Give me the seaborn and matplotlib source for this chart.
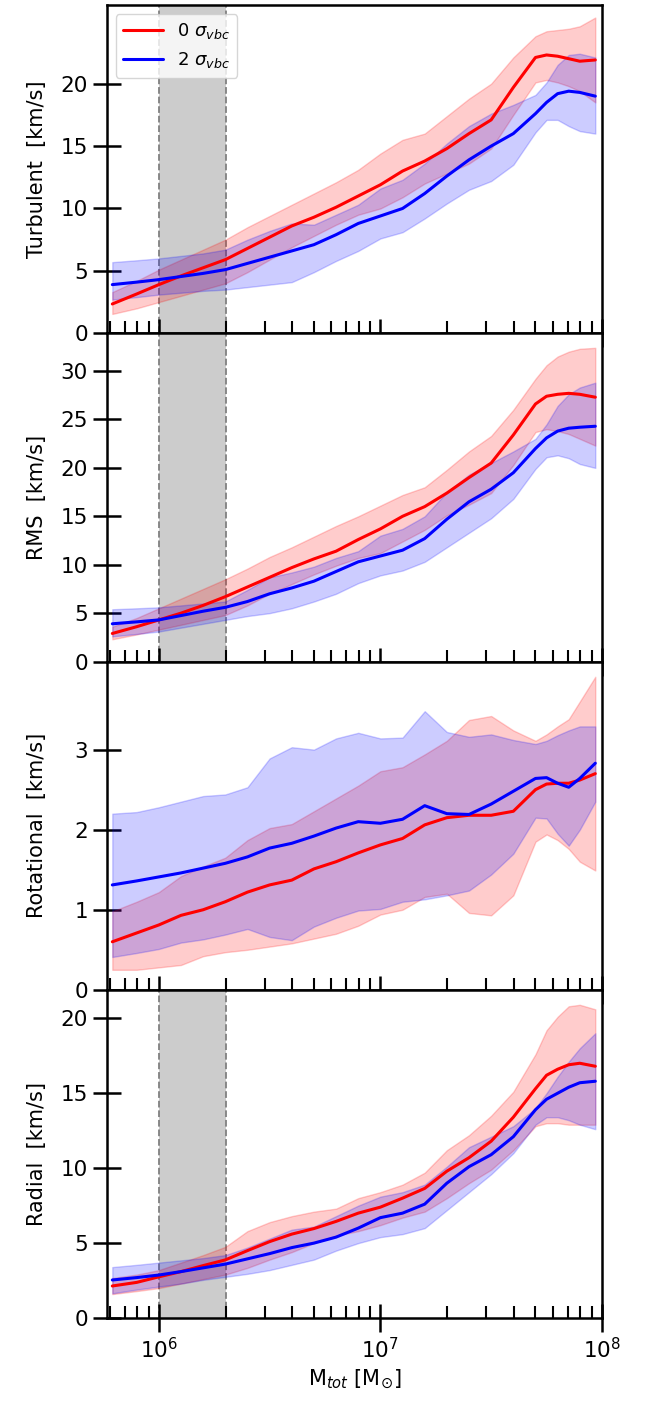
import numpy as np
import pandas as pd
import matplotlib
matplotlib.use("Agg")
import matplotlib.pyplot as plt
import seaborn as sns

# ---------------- data ----------------
log_mass = [5.79, 5.9, 6.0, 6.1, 6.2, 6.3, 6.4, 6.5, 6.6, 6.7, 6.8, 6.9, 7.0,
            7.1, 7.2, 7.3, 7.4, 7.5, 7.6, 7.7, 7.75, 7.8, 7.85, 7.9, 7.97]

# Turbulent
turb_0 = [2.35, 3.15, 3.9, 4.6, 5.25, 5.9, 6.8, 7.7, 8.6, 9.3, 10.1, 11.0, 11.9,
          13.0, 13.8, 14.8, 16.0, 17.1, 19.7, 22.1, 22.3, 22.2, 22.0, 21.8, 21.9]
turb_0_hi = [3.3, 4.2, 5.1, 5.9, 6.7, 7.5, 8.5, 9.4, 10.3, 11.2, 12.1, 13.1, 14.4,
             15.5, 16.0, 17.4, 18.8, 20.0, 22.1, 23.8, 24.2, 24.3, 24.4, 24.6, 25.3]
turb_0_lo = [1.55, 2.0, 2.5, 3.0, 3.5, 4.0, 4.9, 5.9, 6.9, 7.8, 8.7, 9.5, 10.0,
             10.9, 12.0, 12.8, 13.6, 14.8, 17.5, 20.1, 20.3, 20.1, 19.8, 19.4, 18.5]
turb_2 = [3.9, 4.1, 4.3, 4.55, 4.8, 5.1, 5.6, 6.1, 6.6, 7.1, 7.9, 8.8, 9.4,
          10.0, 11.2, 12.6, 13.9, 15.0, 16.0, 17.6, 18.5, 19.2, 19.4, 19.3, 19.0]
turb_2_hi = [5.7, 5.85, 6.0, 6.2, 6.4, 6.7, 7.5, 8.2, 8.8, 8.7, 9.5, 10.3, 11.6,
             12.3, 13.6, 15.2, 16.6, 17.6, 18.3, 19.1, 20.1, 21.5, 22.3, 22.4, 22.1]
turb_2_lo = [2.7, 2.9, 3.1, 3.25, 3.4, 3.5, 3.7, 3.9, 4.1, 4.9, 5.8, 6.6, 7.6,
             8.1, 9.2, 10.4, 11.5, 12.2, 13.5, 16.1, 17.1, 17.1, 16.6, 16.2, 16.0]

# RMS
rms_0 = [2.9, 3.6, 4.3, 5.0, 5.8, 6.7, 7.7, 8.7, 9.7, 10.6, 11.4, 12.6, 13.7,
         15.0, 16.0, 17.4, 19.0, 20.5, 23.4, 26.6, 27.4, 27.6, 27.7, 27.6, 27.3]
rms_0_hi = [3.6, 4.5, 5.5, 6.5, 7.5, 8.5, 9.6, 10.8, 11.8, 12.9, 14.0, 15.0, 16.1,
            17.2, 18.0, 19.8, 21.7, 23.3, 26.0, 29.2, 30.6, 31.5, 32.0, 32.3, 32.4]
rms_0_lo = [2.3, 2.8, 3.3, 3.8, 4.3, 4.8, 5.8, 7.0, 8.0, 9.0, 9.9, 10.7, 11.2,
            12.4, 13.6, 15.1, 16.2, 17.4, 20.3, 23.7, 24.0, 23.8, 23.5, 23.0, 22.3]
rms_2 = [3.9, 4.1, 4.3, 4.75, 5.2, 5.6, 6.2, 7.0, 7.6, 8.3, 9.3, 10.3, 10.9,
         11.5, 12.7, 14.7, 16.5, 17.8, 19.5, 22.0, 23.1, 23.8, 24.1, 24.2, 24.3]
rms_2_hi = [5.4, 5.5, 5.6, 5.8, 6.0, 6.2, 7.4, 8.7, 9.2, 9.8, 10.7, 11.4, 13.0,
            13.7, 15.0, 17.5, 19.3, 20.5, 21.7, 23.0, 24.5, 26.4, 27.6, 28.3, 28.8]
rms_2_lo = [2.6, 2.85, 3.1, 3.5, 3.9, 4.3, 4.7, 5.0, 5.5, 6.2, 7.0, 8.1, 8.9,
            9.4, 10.3, 11.8, 13.3, 14.8, 16.8, 19.9, 21.1, 21.3, 21.0, 20.4, 20.0]

# Rotational
rot_0 = [0.60, 0.71, 0.81, 0.93, 1.0, 1.10, 1.22, 1.31, 1.37, 1.51, 1.60, 1.71, 1.81,
         1.89, 2.06, 2.15, 2.18, 2.18, 2.23, 2.50, 2.57, 2.58, 2.58, 2.62, 2.70]
rot_0_hi = [0.98, 1.10, 1.22, 1.42, 1.54, 1.65, 1.87, 2.02, 2.07, 2.23, 2.39, 2.55, 2.73,
            2.78, 2.94, 3.11, 3.37, 3.42, 3.24, 3.11, 3.19, 3.29, 3.38, 3.60, 3.91]
rot_0_lo = [0.25, 0.25, 0.28, 0.31, 0.42, 0.47, 0.50, 0.54, 0.58, 0.64, 0.70, 0.80, 0.94,
            1.00, 1.16, 1.20, 0.96, 0.93, 1.18, 1.85, 1.94, 1.87, 1.76, 1.60, 1.49]
rot_2 = [1.31, 1.36, 1.41, 1.46, 1.52, 1.58, 1.66, 1.77, 1.83, 1.92, 2.02, 2.10, 2.08,
         2.13, 2.30, 2.20, 2.19, 2.32, 2.48, 2.64, 2.65, 2.58, 2.53, 2.64, 2.83]
rot_2_hi = [2.20, 2.22, 2.28, 2.35, 2.42, 2.44, 2.53, 2.89, 3.03, 3.00, 3.14, 3.21, 3.14,
            3.15, 3.48, 3.22, 3.16, 3.19, 3.12, 3.07, 3.11, 3.18, 3.24, 3.29, 3.29]
rot_2_lo = [0.41, 0.46, 0.51, 0.59, 0.63, 0.69, 0.76, 0.66, 0.62, 0.79, 0.90, 0.99, 1.01,
            1.10, 1.13, 1.18, 1.24, 1.44, 1.70, 2.15, 2.14, 1.95, 1.80, 2.00, 2.35]

# Radial
rad_0 = [2.14, 2.38, 2.75, 3.1, 3.5, 3.88, 4.5, 5.1, 5.6, 5.97, 6.45, 7.0, 7.4,
         8.0, 8.65, 9.8, 10.7, 11.8, 13.4, 15.3, 16.2, 16.6, 16.9, 17.0, 16.8]
rad_0_hi = [2.67, 2.9, 3.2, 3.7, 4.2, 4.75, 5.8, 6.4, 6.8, 7.1, 7.3, 8.0, 8.4,
            8.9, 9.7, 11.2, 12.2, 13.5, 15.1, 17.6, 19.2, 20.1, 20.8, 20.9, 20.6]
rad_0_lo = [1.6, 1.8, 2.0, 2.3, 2.6, 2.9, 3.35, 3.9, 4.4, 5.0, 5.5, 5.8, 6.2,
            6.7, 7.1, 8.0, 9.0, 9.9, 11.2, 12.8, 13.0, 13.0, 12.9, 12.9, 12.9]
rad_2 = [2.54, 2.7, 2.87, 3.1, 3.35, 3.6, 3.95, 4.3, 4.7, 5.0, 5.4, 6.0, 6.7,
         7.0, 7.6, 9.0, 10.1, 10.9, 12.1, 13.9, 14.6, 15.0, 15.4, 15.7, 15.8]
rad_2_hi = [3.4, 3.55, 3.7, 3.85, 4.0, 4.2, 4.7, 5.3, 5.9, 6.1, 6.8, 7.5, 8.1,
            8.4, 8.9, 10.1, 11.4, 12.1, 12.8, 14.0, 15.0, 16.1, 17.1, 18.0, 19.0]
rad_2_lo = [1.65, 1.9, 2.1, 2.3, 2.55, 2.75, 2.95, 3.2, 3.55, 3.9, 4.5, 5.0, 5.4,
            5.6, 6.0, 7.2, 8.4, 9.6, 11.0, 12.9, 13.4, 13.4, 13.2, 12.9, 12.6]

series_labels = [r"0 $\sigma_{vbc}$", r"2 $\sigma_{vbc}$"]
panel_labels = ["Turbulent  [km/s]", "RMS  [km/s]", "Rotational  [km/s]", "Radial  [km/s]"]
panel_yticks = [[0, 5, 10, 15, 20], [0, 5, 10, 15, 20, 25, 30], [0, 1, 2, 3], [0, 5, 10, 15, 20]]
panel_ylims = [26.3, 33.9, 4.1, 21.9]
panel_shade = [True, True, False, True]
shade_range = [1e6, 2e6]

panels = [
    (turb_0, turb_0_lo, turb_0_hi, turb_2, turb_2_lo, turb_2_hi),
    (rms_0, rms_0_lo, rms_0_hi, rms_2, rms_2_lo, rms_2_hi),
    (rot_0, rot_0_lo, rot_0_hi, rot_2, rot_2_lo, rot_2_hi),
    (rad_0, rad_0_lo, rad_0_hi, rad_2, rad_2_lo, rad_2_hi),
]

# ---------------- plot ----------------
sns.set_style("ticks")
plt.rcParams["font.family"] = ["DejaVu Sans"]
plt.rcParams["mathtext.fontset"] = "dejavusans"
for key in ["text.color", "axes.labelcolor", "axes.edgecolor", "xtick.color", "ytick.color"]:
    plt.rcParams[key] = "black"

mass = 10 ** np.array(log_mass)
colors = ["red", "blue"]

fig, axes = plt.subplots(4, 1, figsize=(6.55, 14.01), dpi=100, sharex=True)
fig.subplots_adjust(left=0.163, right=0.919, top=0.9964, bottom=0.0592, hspace=0)

for i, ax in enumerate(axes):
    p = panels[i]
    rows = []
    for k, lab in enumerate(series_labels):
        med = p[3 * k]
        for m, v in zip(mass, med):
            rows.append({"mass": m, "value": v, "series": lab})
    df = pd.DataFrame(rows)

    if panel_shade[i]:
        ax.axvspan(shade_range[0], shade_range[1], color="grey", alpha=0.4, lw=0, zorder=0)
        for xv in shade_range:
            ax.axvline(xv, color="grey", ls="--", lw=1.3, zorder=0.5)

    for k in range(2):
        ax.fill_between(mass, p[3 * k + 1], p[3 * k + 2], color=colors[k], alpha=0.2, lw=1)

    sns.lineplot(data=df, x="mass", y="value", hue="series", palette=colors,
                 hue_order=series_labels, lw=2.2, ax=ax, legend=(i == 0))

    ax.set_xscale("log")
    ax.set_xlim(5.82e5, 1e8)
    ax.set_ylim(0, panel_ylims[i])
    ax.set_yticks(panel_yticks[i])
    ax.set_ylabel(panel_labels[i], fontsize=15)
    ax.set_xlabel("")
    for s in ax.spines.values():
        s.set_linewidth(1.8)
        s.set_visible(True)
        s.set_color("black")
    ax.tick_params(axis="both", which="major", direction="inout", length=20, width=1.8,
                   labelsize=15.5, colors="black")
    ax.tick_params(axis="x", which="minor", direction="in", length=8.5, width=1.5, colors="black")
    ax.tick_params(axis="y", which="minor", left=False)
    ax.yaxis.set_label_coords(-0.12, 0.5)

    if i == 0:
        leg = ax.legend(loc="upper left", fontsize=13, frameon=True, handlelength=2.2)
        leg.get_frame().set_edgecolor("#cccccc")

axes[-1].set_xlabel(r"M$_{tot}$ [M$_{\odot}$]", fontsize=15)

fig.savefig("out.png", dpi=100)
